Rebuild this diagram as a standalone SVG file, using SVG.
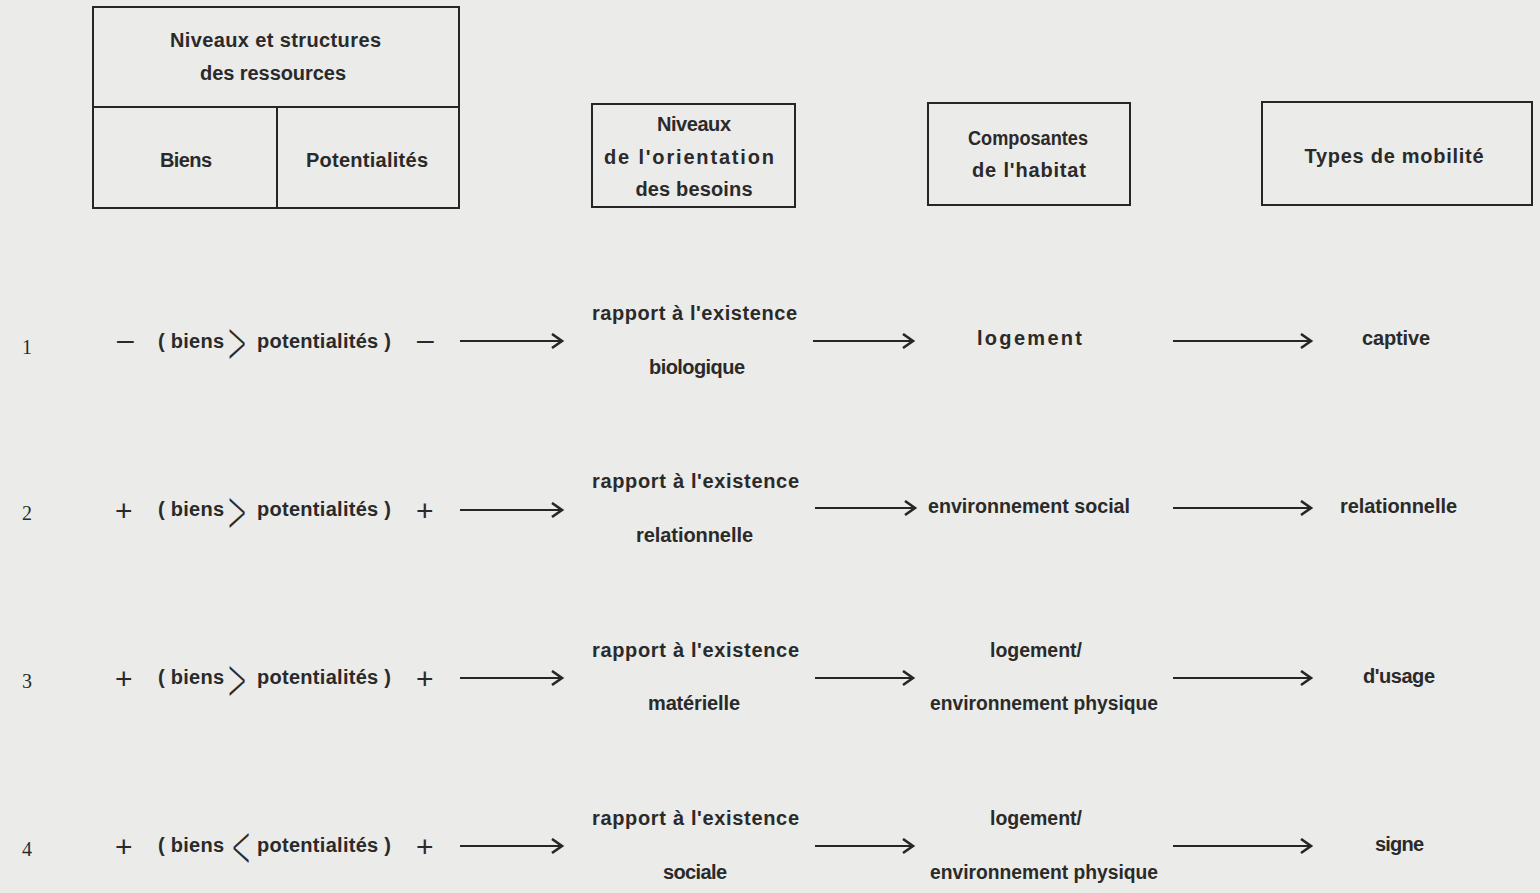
<svg xmlns="http://www.w3.org/2000/svg" width="1540" height="893" viewBox="0 0 1540 893">
<style>
text{font-family:'Liberation Sans','Arial',sans-serif;font-size:20px;font-weight:bold;fill:#2a2a2a;}
.c{text-anchor:middle;}
.box{fill:none;stroke:#262626;stroke-width:2;}
.arr{stroke:#262626;stroke-width:2;fill:none;marker-end:url(#ah);}
.gt{font-family:'DejaVu Sans',sans-serif;font-size:24px;font-weight:200;text-anchor:middle;}
.pm{font-size:30px;font-weight:normal;}
.num{font-family:'Liberation Serif',serif;font-weight:normal;font-size:20px;}
</style>
<defs>
<marker id="ah" markerUnits="userSpaceOnUse" markerWidth="14" markerHeight="18" refX="11" refY="8" orient="auto">
<path d="M1,1 L11,8 L1,15" fill="none" stroke="#262626" stroke-width="2.6"/>
</marker>
</defs>
<rect width="1540" height="893" fill="#ebebe9"/>

<g id="node-ressources">
<rect class="box" x="93" y="7" width="366" height="201"/>
<line class="box" x1="93" y1="107" x2="459" y2="107"/>
<line class="box" x1="277" y1="107" x2="277" y2="208"/>
<text class="c" x="275.5" y="47" textLength="211" lengthAdjust="spacing">Niveaux et structures</text>
<text class="c" x="273" y="80" textLength="146" lengthAdjust="spacing">des ressources</text>
<text class="c" x="186" y="167" textLength="52" lengthAdjust="spacing">Biens</text>
<text class="c" x="367" y="167" textLength="122" lengthAdjust="spacing">Potentialités</text>
</g>

<g id="node-besoins">
<rect class="box" x="592" y="104" width="203" height="103"/>
<text class="c" x="694" y="131" textLength="74" lengthAdjust="spacing">Niveaux</text>
<text class="c" x="689" y="164" textLength="170" lengthAdjust="spacing">de l'orientation</text>
<text class="c" x="694" y="196" textLength="117" lengthAdjust="spacing">des besoins</text>
</g>

<g id="node-habitat">
<rect class="box" x="928" y="103" width="202" height="102"/>
<text class="c" x="1028" y="145" textLength="120" lengthAdjust="spacingAndGlyphs">Composantes</text>
<text class="c" x="1029" y="177" textLength="114" lengthAdjust="spacing">de l'habitat</text>
</g>

<g id="node-mobilite">
<rect class="box" x="1262" y="102" width="270" height="103"/>
<text class="c" x="1394" y="163" textLength="179" lengthAdjust="spacing">Types de mobilité</text>
</g>

<g id="row-1">
<text class="num" x="22" y="354">1</text>
<text class="pm" x="117" y="350">–</text>
<text x="158" y="348" textLength="66" lengthAdjust="spacing">( biens</text>
<text class="gt" transform="translate(237,341) scale(1,2.5)" x="0" y="8.6">&gt;</text>
<text x="257" y="348" textLength="134" lengthAdjust="spacing">potentialités )</text>
<text class="pm" x="417" y="350">–</text>
<text class="c" x="694.5" y="320" textLength="205" lengthAdjust="spacing">rapport à l'existence</text>
<text class="c" x="697" y="374" textLength="96" lengthAdjust="spacing">biologique</text>
<text class="c" x="1029.5" y="345" textLength="105" lengthAdjust="spacing">logement</text>
<text class="c" x="1396" y="345" textLength="68" lengthAdjust="spacing">captive</text>
</g>

<g id="row-2">
<text class="num" x="22" y="520">2</text>
<text class="pm" x="115" y="521">+</text>
<text x="158" y="516" textLength="66" lengthAdjust="spacing">( biens</text>
<text class="gt" transform="translate(237,510) scale(1,2.5)" x="0" y="8.6">&gt;</text>
<text x="257" y="516" textLength="134" lengthAdjust="spacing">potentialités )</text>
<text class="pm" x="416" y="521">+</text>
<text class="c" x="695.5" y="488" textLength="207" lengthAdjust="spacing">rapport à l'existence</text>
<text class="c" x="694.5" y="542" textLength="117" lengthAdjust="spacing">relationnelle</text>
<text class="c" x="1029" y="513" textLength="202" lengthAdjust="spacingAndGlyphs">environnement social</text>
<text class="c" x="1398.5" y="513" textLength="117" lengthAdjust="spacing">relationnelle</text>
</g>

<g id="row-3">
<text class="num" x="22" y="688">3</text>
<text class="pm" x="115" y="689">+</text>
<text x="158" y="684" textLength="66" lengthAdjust="spacing">( biens</text>
<text class="gt" transform="translate(237,678) scale(1,2.5)" x="0" y="8.6">&gt;</text>
<text x="257" y="684" textLength="134" lengthAdjust="spacing">potentialités )</text>
<text class="pm" x="416" y="689">+</text>
<text class="c" x="695.5" y="657" textLength="207" lengthAdjust="spacing">rapport à l'existence</text>
<text class="c" x="694" y="710" textLength="92" lengthAdjust="spacing">matérielle</text>
<text class="c" x="1036" y="657" textLength="92" lengthAdjust="spacingAndGlyphs">logement/</text>
<text class="c" x="1044" y="710" textLength="228" lengthAdjust="spacingAndGlyphs">environnement physique</text>
<text class="c" x="1399" y="683" textLength="72" lengthAdjust="spacing">d'usage</text>
</g>

<g id="row-4">
<text class="num" x="22" y="856">4</text>
<text class="pm" x="115" y="857">+</text>
<text x="158" y="852" textLength="66" lengthAdjust="spacing">( biens</text>
<text class="gt" transform="translate(241,845) scale(1,2.5)" x="0" y="8.6">&lt;</text>
<text x="257" y="852" textLength="134" lengthAdjust="spacing">potentialités )</text>
<text class="pm" x="416" y="857">+</text>
<text class="c" x="695.5" y="825" textLength="207" lengthAdjust="spacing">rapport à l'existence</text>
<text class="c" x="695" y="879" textLength="64" lengthAdjust="spacing">sociale</text>
<text class="c" x="1036" y="825" textLength="92" lengthAdjust="spacingAndGlyphs">logement/</text>
<text class="c" x="1044" y="879" textLength="228" lengthAdjust="spacingAndGlyphs">environnement physique</text>
<text class="c" x="1399.5" y="851" textLength="49" lengthAdjust="spacing">signe</text>
</g>

<g id="connectors">
<line class="arr" x1="460" y1="341" x2="562" y2="341"/>
<line class="arr" x1="813" y1="341" x2="913" y2="341"/>
<line class="arr" x1="1173" y1="341" x2="1311" y2="341"/>
<line class="arr" x1="460" y1="510" x2="562" y2="510"/>
<line class="arr" x1="815" y1="508" x2="915" y2="508"/>
<line class="arr" x1="1173" y1="508" x2="1311" y2="508"/>
<line class="arr" x1="460" y1="678" x2="562" y2="678"/>
<line class="arr" x1="815" y1="678" x2="913" y2="678"/>
<line class="arr" x1="1173" y1="678" x2="1311" y2="678"/>
<line class="arr" x1="460" y1="846" x2="562" y2="846"/>
<line class="arr" x1="815" y1="846" x2="913" y2="846"/>
<line class="arr" x1="1173" y1="846" x2="1311" y2="846"/>
</g>
</svg>
